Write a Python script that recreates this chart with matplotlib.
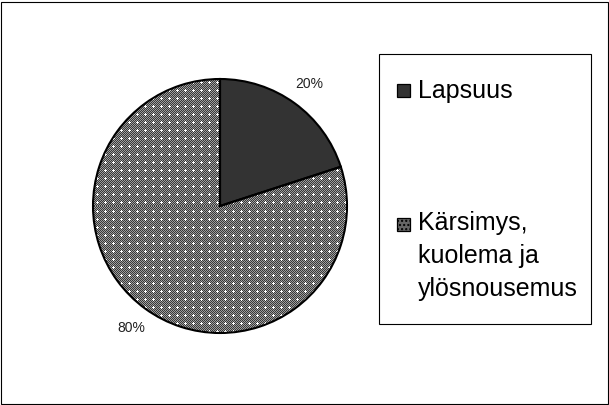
import matplotlib
matplotlib.use("Agg")
import matplotlib.pyplot as plt
import numpy as np
from matplotlib.patches import Rectangle

categories = ["Lapsuus", "Kärsimys,\nkuolema ja\nylösnousemus"]
values = [20, 80]
pct_labels = ["20%", "80%"]

W, H = 609, 405
fig = plt.figure(figsize=(W/100, H/100), dpi=100)
fig.patch.set_facecolor("white")

# outer frame
fig.add_artist(Rectangle((0.5/W, 1.5/H), (W-2)/W, (H-3)/H, transform=fig.transFigure,
                         fill=False, edgecolor="black", linewidth=0.8))

cx, cy, r = 220, 206, 127
ax = fig.add_axes([(cx-r)/W, (H-cy-r)/H, 2*r/W, 2*r/H])
ax.axis("off")

fills = ["#333333", "#808080"]
wedges, texts = ax.pie(values, startangle=90, counterclock=False, colors=fills,
                       radius=1, labels=pct_labels, labeldistance=1.19,
                       wedgeprops=dict(linewidth=0),
                       textprops=dict(fontsize=10, color="#222222", family="Liberation Sans"))
for t in texts:
    t.set_ha("center"); t.set_va("center")
ax.set_xlim(-1, 1); ax.set_ylim(-1, 1)

# dotted texture for the large slice
n = 2 * r
yy, xx = np.mgrid[0:n, 0:n]
tex = np.where((xx + yy) % 2 == 0, 0.22, 0.62)
cxm, cym = xx % 8, yy % 8
cross = ((cxm == 4) & (np.abs(cym - 4) <= 1)) | ((cym == 4) & (np.abs(cxm - 4) <= 1))
tex = np.where(cross, 1.0, tex)
img = ax.imshow(tex, cmap="gray", vmin=0, vmax=1, extent=[-1, 1, -1, 1],
                interpolation="nearest", zorder=1.5)
img.set_clip_path(wedges[1])

ax.pie(values, startangle=90, counterclock=False, radius=1,
       wedgeprops=dict(fill=False, edgecolor="black", linewidth=1.5, zorder=3))
ax.set_xlim(-1.0, 1.0); ax.set_ylim(-1.0, 1.0)
ax.set_aspect("auto")

# legend box
lx0, ly0, lx1, ly1 = 379, 54, 591, 324
fig.add_artist(Rectangle((lx0/W, (H-ly1)/H), (lx1-lx0)/W, (ly1-ly0)/H, transform=fig.transFigure,
                         fill=False, edgecolor="black", linewidth=0.8))
items = [(90.5, 98, ["Lapsuus"]), (224, 230, ["Kärsimys,", "kuolema ja", "ylösnousemus"])]
hatches = [None, "...."]
for i, (sqc, base, lines) in enumerate(items):
    sq = Rectangle((397/W, (H-sqc-6.5)/H), 13/W, 13/H, transform=fig.transFigure,
                   facecolor=fills[i], edgecolor="black", linewidth=0.9)
    if hatches[i]:
        sq.set_hatch(hatches[i])
        sq.set_facecolor("#666666")
    fig.add_artist(sq)
    for j, line in enumerate(lines):
        fig.text(418/W, (H-base-j*33)/H, line, fontsize=18, family="Liberation Sans",
                 va="baseline", ha="left", color="black")

fig.savefig("out.png", dpi=100)
